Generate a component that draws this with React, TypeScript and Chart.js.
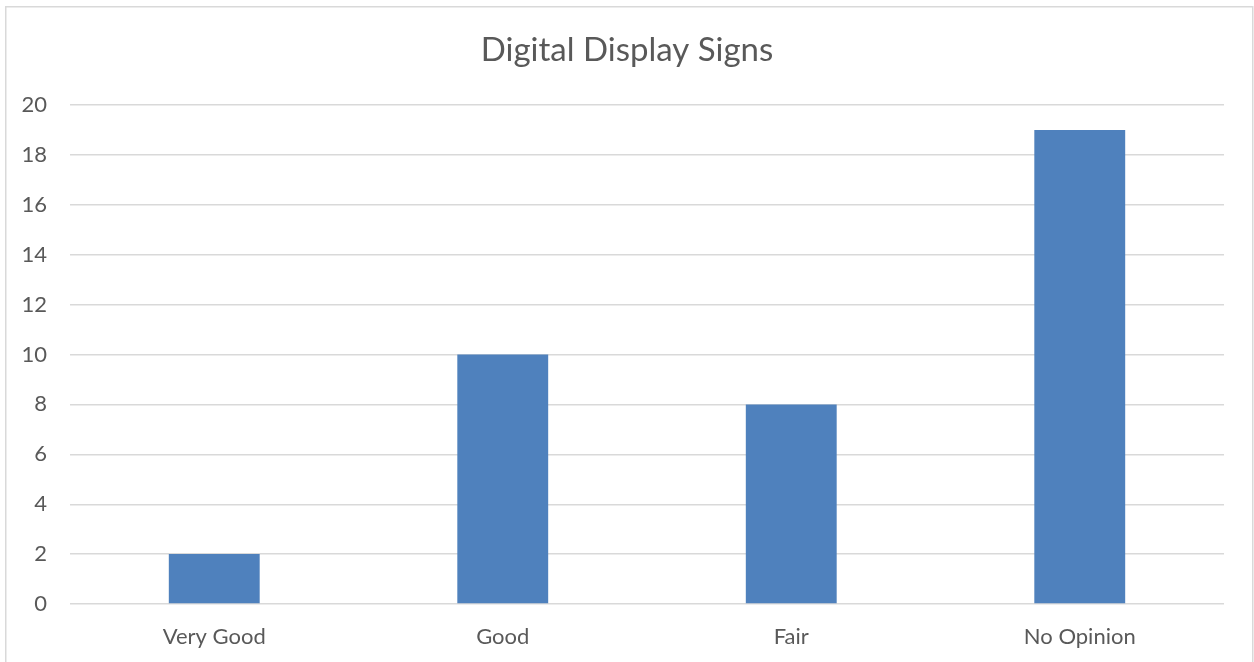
import React, { useEffect, useRef } from "react";
import { Chart, registerables } from "chart.js";

Chart.register(...registerables);

const chartTitle = "Digital Display Signs";
const categories = ["Very Good", "Good", "Fair", "No Opinion"];
const values = [2, 10, 8, 19];
const yMin = 0;
const yMax = 20;
const yStep = 2;

const FONT = "Lato, 'Open Sans', sans-serif";
const TEXT = "#595959";
const GRID = "#d9d9d9";
const BAR = "#4f81bd";

const framePlugin = {
  id: "frame",
  beforeDraw(chart: any) {
    const ctx = chart.ctx;
    ctx.save();
    ctx.fillStyle = "#ffffff";
    ctx.fillRect(0, 0, chart.width, chart.height);
    ctx.strokeStyle = GRID;
    ctx.lineWidth = 1.5;
    ctx.strokeRect(5.75, 6.75, chart.width - 7, chart.height + 10);
    ctx.restore();
  },
};

export default function App() {
  const ref = useRef<HTMLCanvasElement | null>(null);
  useEffect(() => {
    if (!ref.current) return;
    const chart = new Chart(ref.current, {
      type: "bar",
      data: {
        labels: categories,
        datasets: [
          {
            data: values,
            backgroundColor: BAR,
            borderWidth: 0,
            categoryPercentage: 1,
            barPercentage: 0.315,
            yAxisID: "y",
          },
        ],
      },
      options: {
        responsive: false,
        animation: false,
        layout: { padding: { left: 0, right: 0, top: 0, bottom: 0 } },
        plugins: {
          legend: { display: false },
          tooltip: { enabled: false },
          title: {
            display: true,
            text: chartTitle,
            color: TEXT,
            font: { family: FONT, size: 33, weight: "normal", lineHeight: 1.2 },
            padding: { top: 30.5, bottom: 34.9 },
          },
        },
        scales: {
          x: {
            grid: { display: false, drawTicks: false },
            border: { display: false },
            ticks: {
              color: TEXT,
              font: { family: FONT, size: 22 },
              padding: 20,
              maxRotation: 0,
            },
            afterFit(scale: any) {
              scale.height = 58;
            },
          },
          y: {
            min: yMin,
            max: yMax,
            grid: { color: GRID, lineWidth: 1.4, drawTicks: false },
            border: { display: false },
            ticks: {
              stepSize: yStep,
              color: TEXT,
              font: { family: FONT, size: 22 },
              padding: 23,
            },
            afterFit(scale: any) {
              scale.width = 70;
            },
          },
          ySpacer: {
            position: "right",
            display: true,
            grid: { display: false, drawTicks: false },
            border: { display: false },
            ticks: { display: false },
            afterFit(scale: any) {
              scale.width = 30;
            },
          },
        },
      },
      plugins: [framePlugin],
    });
    return () => chart.destroy();
  }, []);
  return (
    <div style={{ position: "fixed", left: 0, top: 0, width: 1254, height: 662 }}>
      <canvas ref={ref} width={1254} height={662} />
    </div>
  );
}
